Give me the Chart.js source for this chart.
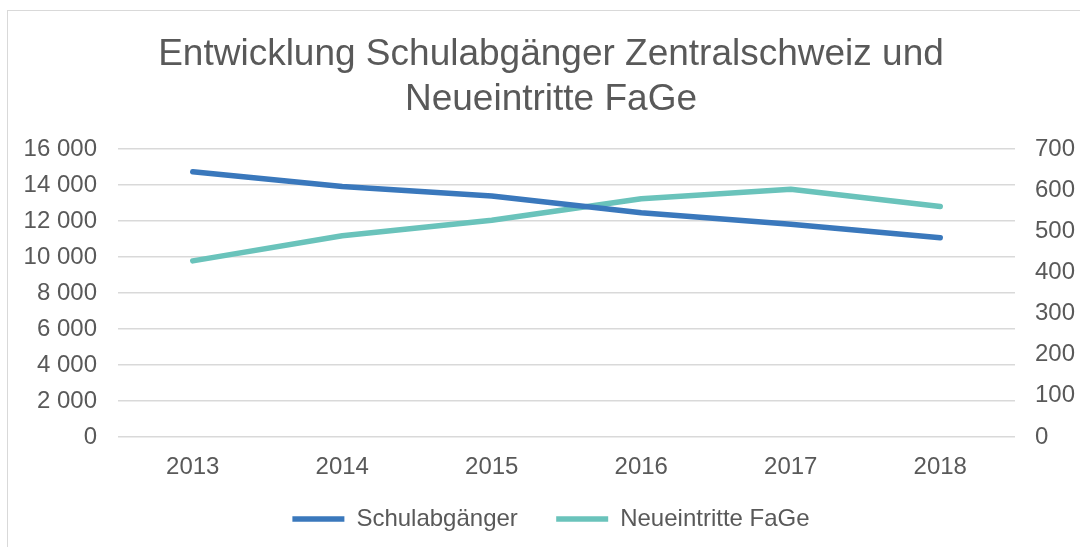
<!DOCTYPE html>
<html>
<head>
<meta charset="utf-8">
<script src="https://cdn.jsdelivr.net/npm/chart.js@4/dist/chart.umd.min.js"></script>
<style>
html,body{margin:0;padding:0;background:#fff;width:1080px;height:547px;overflow:hidden;}
#frame{position:absolute;left:7px;top:10px;width:1100px;height:600px;border:1.5px solid #d9d9d9;box-sizing:border-box;}
#wrap{position:absolute;left:0;top:0;width:1080px;height:547px;}
</style>
</head>
<body>
<div id="frame"></div>
<div id="wrap"><canvas id="c" width="1080" height="547"></canvas></div>
<script>
const titleLines = ['Entwicklung Schulabgänger Zentralschweiz und', 'Neueintritte FaGe'];
const years = ['2013', '2014', '2015', '2016', '2017', '2018'];
const schulabgaenger = [14740, 13910, 13390, 12460, 11820, 11070];
const neueintritte = [428, 489, 527, 579, 602, 560];
const seriesNames = ['Schulabgänger', 'Neueintritte FaGe'];
const leftTicks = [0, 2000, 4000, 6000, 8000, 10000, 12000, 14000, 16000];
const rightTicks = [0, 100, 200, 300, 400, 500, 600, 700];

const FONT = '"Liberation Sans", Arial, sans-serif';
const TXT = '#595959';
const GRID = '#d9d9d9';

function fmt(v){
  const s = String(Math.round(v));
  return s.replace(/\B(?=(\d{3})+(?!\d))/g, ' ');
}

new Chart(document.getElementById('c'), {
  type: 'line',
  data: {
    labels: years,
    datasets: [
      {label: seriesNames[0], data: schulabgaenger, yAxisID: 'y', borderColor: '#3a78bc', backgroundColor: '#3a78bc', borderWidth: 5.5, borderCapStyle: 'round', borderJoinStyle: 'round', pointRadius: 0, tension: 0},
      {label: seriesNames[1], data: neueintritte, yAxisID: 'y1', borderColor: '#6ac3bb', backgroundColor: '#6ac3bb', borderWidth: 5.5, borderCapStyle: 'round', borderJoinStyle: 'round', pointRadius: 0, tension: 0}
    ]
  },
  options: {
    responsive: false,
    animation: false,
    devicePixelRatio: 1,
    layout: {padding: {left: 22, right: 0, top: 0, bottom: 6}},
    plugins: {
      title: {display: true, text: titleLines, color: TXT, font: {family: FONT, size: 37, weight: 'normal', lineHeight: 1.216}, padding: {top: 32, bottom: 27}},
      legend: {
        position: 'bottom',
        labels: {
          color: TXT, font: {family: FONT, size: 24}, usePointStyle: true, pointStyle: 'line', pointStyleWidth: 52, boxHeight: 10, padding: 25,
          generateLabels: (chart) => {
            const items = Chart.defaults.plugins.legend.labels.generateLabels(chart);
            items.forEach((it, i) => { if (i < items.length - 1) it.text = it.text + '  '; });
            return items;
          }
        }
      },
      tooltip: {enabled: false}
    },
    scales: {
      x: {
        offset: true,
        grid: {display: false, drawTicks: false, offset: true},
        border: {display: false},
        afterFit: (s) => { s.height = 45; },
        ticks: {color: TXT, font: {family: FONT, size: 24}, padding: 16}
      },
      y: {
        position: 'left', min: 0, max: 16000,
        afterBuildTicks: (s) => { s.ticks = leftTicks.map(v => ({value: v})); },
        afterFit: (s) => { s.width = 96; },
        grid: {color: GRID, lineWidth: 1.5, drawTicks: false},
        border: {display: false},
        ticks: {color: TXT, font: {family: FONT, size: 24}, padding: 21, callback: (v) => fmt(v)}
      },
      y1: {
        position: 'right', min: 0, max: 700,
        afterBuildTicks: (s) => { s.ticks = rightTicks.map(v => ({value: v})); },
        afterFit: (s) => { s.width = 65; },
        grid: {display: false, drawTicks: false},
        border: {display: false},
        ticks: {color: TXT, font: {family: FONT, size: 24}, padding: 20, callback: (v) => fmt(v)}
      }
    }
  }
});
</script>
</body>
</html>
